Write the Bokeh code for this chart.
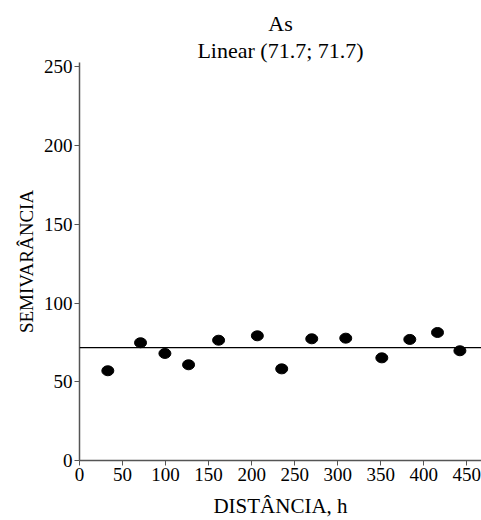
import math
from bokeh.plotting import figure
from bokeh.models import Range1d, Title, FixedTicker, Span
from bokeh.embed import file_html
from bokeh.resources import INLINE

distance = [32.9, 70.9, 99.2, 126.7, 161.6, 206.6, 234.9, 269.8, 309.3, 351.2, 383.7, 415.9, 441.9]
semivariance = [57.0, 74.8, 68.0, 60.8, 76.4, 79.2, 58.2, 77.3, 77.7, 65.2, 76.9, 81.3, 69.7]
model_sill = 71.7
x_ticks = [0, 50, 100, 150, 200, 250, 300, 350, 400, 450]
y_ticks = [0, 50, 100, 150, 200, 250]
title_lines = ["As", "Linear (71.7; 71.7)"]
x_label = "DISTÂNCIA, h"
y_label = "SEMIVARÂNCIA"

FONT = "Liberation Serif"

p = figure(width=481, height=520, output_backend="svg", toolbar_location=None,
           x_range=Range1d(0, 467), y_range=Range1d(0, 252.8),
           min_border_left=79, min_border_right=0, min_border_top=62, min_border_bottom=60)
p.title.text = title_lines[0]
p.title.text_font = FONT
p.title.text_font_size = "22px"
p.title.text_font_style = "normal"
p.title.text_color = "black"
p.title.align = "center"
p.title.standoff = 0
p.add_layout(Title(text=title_lines[1], align="center", text_font=FONT, text_color="black",
                   text_font_size="22px", text_font_style="normal", standoff=0), "above")
p.outline_line_color = None
p.grid.visible = False

p.axis.axis_line_color = "#555555"
p.axis.axis_line_width = 1.5
p.axis.major_tick_line_color = "#555555"
p.axis.major_tick_out = 5
p.axis.major_tick_in = 0
p.axis.minor_tick_line_color = None
p.axis.major_label_text_font = FONT
p.axis.major_label_text_font_size = "19px"
p.axis.major_label_text_color = "black"
p.axis.axis_label_text_font = FONT
p.axis.axis_label_text_font_size = "21px"
p.axis.axis_label_text_font_style = "normal"
p.axis.axis_label_text_color = "black"

p.xaxis.ticker = FixedTicker(ticks=x_ticks)
p.yaxis.ticker = FixedTicker(ticks=y_ticks)
p.xaxis.axis_label = x_label
p.xaxis.major_label_standoff = 2
p.xaxis.axis_label_standoff = 10
p.yaxis.major_label_standoff = 2
p.yaxis.major_label_orientation = "horizontal"

p.add_layout(Title(text=y_label, align="center", text_font=FONT, text_color="black",
                   text_font_size="19px", text_font_style="normal", standoff=8), "left")

p.add_layout(Span(location=model_sill, dimension="width", line_color="black", line_width=1.3))

p.ellipse(x=distance, y=semivariance, width=12, height=10,
          width_units="screen", height_units="screen",
          fill_color="black", line_color="black")

open("out.html", "w").write(file_html(p, INLINE))
